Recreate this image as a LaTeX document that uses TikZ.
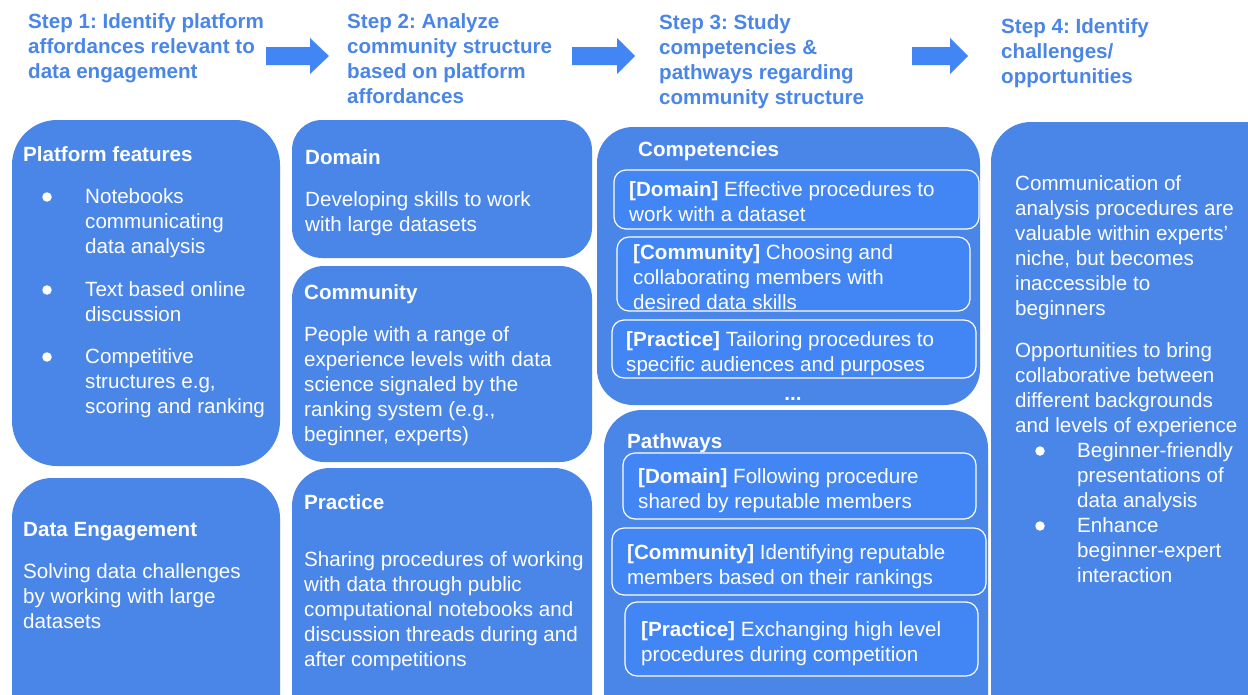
\documentclass[tikz,border=0pt]{standalone}
\usepackage{fontspec}
\setmainfont{Liberation Sans}
\frenchspacing
\definecolor{boxblue}{HTML}{4A86E8}
\definecolor{innerblue}{HTML}{4285F4}
\definecolor{stepblue}{HTML}{4A86E8}
\tikzset{
  body/.style={anchor=north west, inner sep=0pt, align=left, text=white,
    font=\fontsize{20.6}{25}\selectfont, execute at begin node=\strut},
  head/.style={body, font=\fontsize{20.6}{25}\selectfont\bfseries},
  steptitle/.style={head, text=stepblue},
  outerbox/.style={fill=boxblue},
  innerbox/.style={fill=innerblue, draw=white, line width=1.2pt, rounded corners=12pt},
  blockarrow/.style={fill=innerblue},
  dot/.style={circle, fill=white, inner sep=0pt, minimum size=9.5pt}
}
\begin{document}
\begin{tikzpicture}[x=1pt,y=-1pt]
\clip (0,0) rectangle (1248,694);
\fill[white] (0,0) rectangle (1248,694);

% step titles and arrows between them
\node[steptitle] (t1) at (28,13) {Step 1: Identify platform\\affordances relevant to\\data engagement};
\node[steptitle] (t2) at (347,13) {Step 2: Analyze\\community structure\\based on platform\\affordances};
\node[steptitle] (t3) at (659,14) {Step 3: Study\\competencies \&\\pathways regarding\\community structure};
\node[steptitle] (t4) at (1001,18) {Step 4: Identify\\challenges/\\opportunities};

\fill[blockarrow] (266,47) -- (310,47) -- (310,38) -- (329,56) -- (310,74) -- (310,65) -- (266,65) -- cycle;
\fill[blockarrow] (572,47) -- (617,47) -- (617,38) -- (635,56) -- (617,74) -- (617,65) -- (572,65) -- cycle;
\fill[blockarrow] (912,47) -- (950,47) -- (950,38) -- (968,56) -- (950,74) -- (950,65) -- (912,65) -- cycle;

% column 1: platform affordances
\fill[outerbox, rounded corners=45pt] (12,120) rectangle (280,466);
\fill[outerbox, rounded corners=40pt] (12,478) rectangle (280,740);
\node[head] (pf) at (23,144) {Platform features};
\node[dot] (d1) at (47,197) {};
\node[body] (pf1) at (85,188) {Notebooks\\communicating\\data analysis};
\node[dot] (d2) at (47,290) {};
\node[body] (pf2) at (85,281) {Text based online\\discussion};
\node[dot] (d3) at (47,357) {};
\node[body] (pf3) at (85,348) {Competitive\\structures e.g,\\scoring and ranking};
\node[head] (de) at (23,519) {Data Engagement};
\node[body] (de1) at (23,563) {Solving data challenges\\by working with large\\datasets};

% column 2: community structure
\fill[outerbox, rounded corners=30pt] (292,120) rectangle (592,258);
\fill[outerbox, rounded corners=32pt] (292,266) rectangle (592,462);
\fill[outerbox, rounded corners=38pt] (292,468) rectangle (592,740);
\node[head] (dom) at (305,147) {Domain};
\node[body] (dom1) at (305,191) {Developing skills to work\\with large datasets};
\node[head] (com) at (304,282) {Community};
\node[body] (com1) at (304,326) {People with a range of\\experience levels with data\\science signaled by the\\ranking system (e.g.,\\beginner, experts)};
\node[head] (pra) at (304,492) {Practice};
\node[body] (pra1) at (304,551) {Sharing procedures of working\\with data through public\\computational notebooks and\\discussion threads during and\\after competitions};

% column 3: competencies and pathways
\fill[outerbox, rounded corners=36pt] (597,127) rectangle (980,405);
\fill[outerbox, rounded corners=38pt] (604,410) rectangle (988,740);
\draw[innerbox] (614,170) rectangle (979,229);
\draw[innerbox] (617,237) rectangle (970,311);
\draw[innerbox] (612,320) rectangle (976,378);
\draw[innerbox] (623,453) rectangle (976,519);
\draw[innerbox] (612,528) rectangle (986,595);
\draw[innerbox] (625,602) rectangle (978,676);
\node[head] (cmp) at (638,139) {Competencies};
\node[body] (cmp1) at (629,181) {\textbf{[Domain]} Effective procedures to\\work with a dataset};
\node[body] (cmp2) at (633,244) {\textbf{[Community]} Choosing and\\collaborating members with\\desired data skills};
\node[body] (cmp3) at (626,331) {\textbf{[Practice]} Tailoring procedures to\\specific audiences and purposes};
\node[text=white, inner sep=0pt, font=\fontsize{20.6}{25}\selectfont\bfseries] (more) at (793,399) {...};
\node[head] (pth) at (627,431) {Pathways};
\node[body] (pth1) at (638,468) {\textbf{[Domain]} Following procedure\\shared by reputable members};
\node[body] (pth2) at (627,544) {\textbf{[Community]} Identifying reputable\\members based on their rankings};
\node[body] (pth3) at (641,621) {\textbf{[Practice]} Exchanging high level\\procedures during competition};

% column 4: challenges and opportunities
\fill[outerbox, rounded corners=40pt] (991,122) rectangle (1300,740);
\node[body] (ch1) at (1015,175) {Communication of\\analysis procedures are\\valuable within experts’\\niche, but becomes\\inaccessible to\\beginners};
\node[body] (op1) at (1015,342) {Opportunities to bring\\collaborative between\\different backgrounds\\and levels of experience};
\node[dot] (d4) at (1040,451) {};
\node[body] (op2) at (1077,442) {Beginner-friendly\\presentations of\\data analysis};
\node[dot] (d5) at (1040,526) {};
\node[body] (op3) at (1077,517) {Enhance\\beginner-expert\\interaction};
\end{tikzpicture}
\end{document}
